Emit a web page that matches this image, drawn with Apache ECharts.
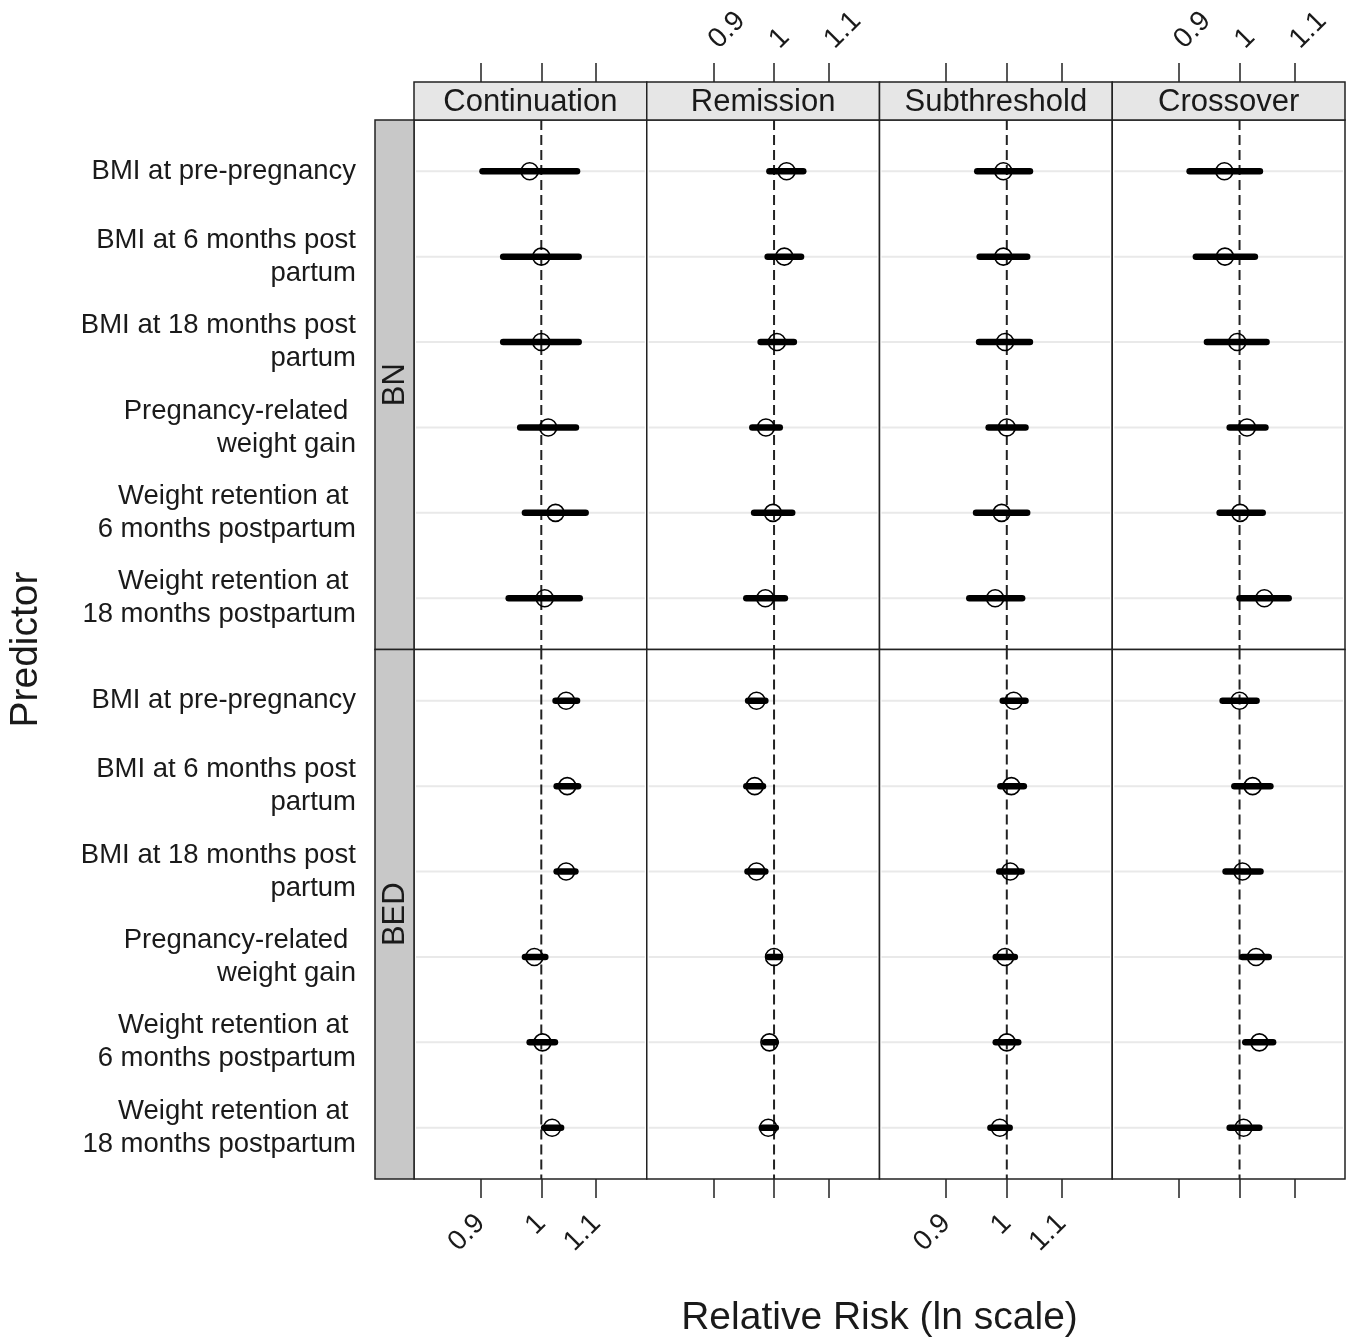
<!DOCTYPE html>
<html><head><meta charset="utf-8">
<script src="https://cdn.jsdelivr.net/npm/echarts@6/dist/echarts.min.js"></script>
<style>html,body{margin:0;padding:0;background:#fff}#chart{width:1355px;height:1342px}</style>
</head><body><div id="chart"></div>
<script>
// ---------- categories ----------
const outcomes = ['Continuation', 'Remission', 'Subthreshold', 'Crossover'];
const groups = ['BN', 'BED'];
const predictors = [
  'BMI at pre-pregnancy',
  'BMI at 6 months post\npartum',
  'BMI at 18 months post\npartum',
  'Pregnancy-related \nweight gain',
  'Weight retention at \n6 months postpartum',
  'Weight retention at \n18 months postpartum'
];
const tickValues = [0.9, 1, 1.1];
const tickLabels = ['0.9', '1', '1.1'];
const xLimits = [0.8018, 1.2008];
const referenceRR = 1;

// ---------- BN: relative risk estimates and 95% CI ----------
const BN_Continuation_est = [0.980, 1.000, 1.000, 1.012, 1.025, 1.006];
const BN_Continuation_lo  = [0.903, 0.936, 0.936, 0.964, 0.972, 0.945];
const BN_Continuation_hi  = [1.064, 1.067, 1.067, 1.062, 1.080, 1.069];

const BN_Remission_est = [1.022, 1.018, 1.005, 0.986, 0.998, 0.985];
const BN_Remission_lo  = [0.992, 0.989, 0.977, 0.963, 0.966, 0.953];
const BN_Remission_hi  = [1.052, 1.048, 1.035, 1.010, 1.032, 1.019];

const BN_Subthreshold_est = [0.994, 0.994, 0.997, 1.000, 0.991, 0.980];
const BN_Subthreshold_lo  = [0.950, 0.954, 0.953, 0.969, 0.948, 0.937];
const BN_Subthreshold_hi  = [1.041, 1.036, 1.041, 1.033, 1.036, 1.027];

const BN_Crossover_est = [0.974, 0.975, 0.996, 1.013, 1.001, 1.044];
const BN_Crossover_lo  = [0.917, 0.927, 0.945, 0.983, 0.966, 1.000];
const BN_Crossover_hi  = [1.036, 1.027, 1.048, 1.046, 1.041, 1.089];

// ---------- BED ----------
const BED_Continuation_est = [1.044, 1.046, 1.044, 0.988, 1.002, 1.019];
const BED_Continuation_lo  = [1.025, 1.027, 1.027, 0.972, 0.980, 1.005];
const BED_Continuation_hi  = [1.064, 1.066, 1.061, 1.007, 1.024, 1.035];

const BED_Remission_est = [0.970, 0.967, 0.970, 1.000, 0.992, 0.990];
const BED_Remission_lo  = [0.956, 0.953, 0.955, 0.991, 0.984, 0.979];
const BED_Remission_hi  = [0.985, 0.981, 0.985, 1.010, 1.003, 1.003];

const BED_Subthreshold_est = [1.012, 1.008, 1.006, 0.997, 1.000, 0.988];
const BED_Subthreshold_lo  = [0.993, 0.989, 0.987, 0.981, 0.981, 0.972];
const BED_Subthreshold_hi  = [1.033, 1.030, 1.026, 1.014, 1.020, 1.005];

const BED_Crossover_est = [1.000, 1.023, 1.005, 1.029, 1.035, 1.007];
const BED_Crossover_lo  = [0.971, 0.991, 0.976, 1.005, 1.010, 0.983];
const BED_Crossover_hi  = [1.030, 1.055, 1.037, 1.052, 1.060, 1.035];

const panelData = {
  BN: {
    Continuation: [BN_Continuation_est, BN_Continuation_lo, BN_Continuation_hi],
    Remission: [BN_Remission_est, BN_Remission_lo, BN_Remission_hi],
    Subthreshold: [BN_Subthreshold_est, BN_Subthreshold_lo, BN_Subthreshold_hi],
    Crossover: [BN_Crossover_est, BN_Crossover_lo, BN_Crossover_hi]
  },
  BED: {
    Continuation: [BED_Continuation_est, BED_Continuation_lo, BED_Continuation_hi],
    Remission: [BED_Remission_est, BED_Remission_lo, BED_Remission_hi],
    Subthreshold: [BED_Subthreshold_est, BED_Subthreshold_lo, BED_Subthreshold_hi],
    Crossover: [BED_Crossover_est, BED_Crossover_lo, BED_Crossover_hi]
  }
};

// ---------- layout ----------
const FONT = 'Liberation Sans, Arial, Helvetica, sans-serif';
const TXT = '#1a1a1a';
const LINE = '#222';
const pLeft = 414, pRight = 1345, pTop = 120, pBottom = 1179;
const pW = (pRight - pLeft) / outcomes.length;
const pH = (pBottom - pTop) / groups.length;
const stripH = 38, sideStripW = 39;
const yMin = 0.4, yMax = predictors.length + 0.6;

const ln = Math.log;
const grids = [], xAxes = [], yAxes = [], series = [], graphics = [];

groups.forEach((g, r) => {
  outcomes.forEach((o, c) => {
    const idx = grids.length;
    grids.push({
      left: pLeft + c * pW, top: pTop + r * pH, width: pW, height: pH,
      show: true, borderColor: LINE, borderWidth: 1.5, backgroundColor: '#fff',
      containLabel: false, outerBoundsMode: 'none'
    });
    const isTop = r === 0;
    const showLbl = isTop ? (c % 2 === 1) : (c % 2 === 0);
    xAxes.push({
      type: 'value', gridIndex: idx,
      min: ln(xLimits[0]), max: ln(xLimits[1]),
      position: isTop ? 'top' : 'bottom', offset: isTop ? stripH : 0,
      axisLine: { show: false },
      axisTick: { show: true, inside: false, length: 19, customValues: tickValues.map(ln),
                  lineStyle: { color: LINE, width: 1.5 } },
      axisLabel: {
        show: showLbl, customValues: tickValues.map(ln), rotate: isTop ? -45 : 45, margin: isTop ? 38 : 40,
        fontSize: 28, fontFamily: FONT, color: TXT,
        formatter: v => {
          let best = 0;
          tickValues.forEach((t, i) => { if (Math.abs(ln(t) - v) < Math.abs(ln(tickValues[best]) - v)) best = i; });
          return tickLabels[best];
        }
      },
      splitLine: { show: false }
    });
    yAxes.push({
      type: 'value', gridIndex: idx, inverse: true, min: yMin, max: yMax,
      axisLine: { show: false }, axisTick: { show: false }, splitLine: { show: false },
      axisLabel: {
        show: c === 0, customValues: predictors.map((p, i) => i + 1), margin: 58,
        fontSize: 27.5, lineHeight: 33, fontFamily: FONT, color: TXT, align: 'right',
        formatter: v => predictors[Math.round(v) - 1]
      }
    });
    const [est, lo, hi] = panelData[g][o];
    // light reference lines for each predictor
    series.push({
      type: 'custom', xAxisIndex: idx, yAxisIndex: idx, z: 1, silent: true,
      data: predictors.map((p, i) => [ln(referenceRR), i + 1]),
      renderItem: (params, api) => {
        const y = api.coord([api.value(0), api.value(1)])[1];
        const cs = params.coordSys;
        return { type: 'line', shape: { x1: cs.x + 2, y1: y, x2: cs.x + cs.width - 2, y2: y },
                 style: { stroke: '#e9e9e9', lineWidth: 2 } };
      }
    });
    // dashed reference at RR = 1
    series.push({
      type: 'line', xAxisIndex: idx, yAxisIndex: idx, z: 2, silent: true,
      showSymbol: false, symbol: 'none',
      data: [[ln(referenceRR), yMin], [ln(referenceRR), yMax]],
      lineStyle: { color: LINE, width: 2, type: [10, 5] }
    });
    // CI bars
    series.push({
      type: 'custom', xAxisIndex: idx, yAxisIndex: idx, z: 3, silent: true,
      encode: { x: [0, 1], y: 2 },
      data: lo.map((l, i) => [ln(l), ln(hi[i]), i + 1]),
      renderItem: (params, api) => {
        const a = api.coord([api.value(0), api.value(2)]);
        const b = api.coord([api.value(1), api.value(2)]);
        return { type: 'line', shape: { x1: a[0], y1: a[1], x2: b[0], y2: b[1] },
                 style: { stroke: '#000', lineWidth: 6.5, lineCap: 'round' } };
      }
    });
    // point estimates
    series.push({
      type: 'scatter', xAxisIndex: idx, yAxisIndex: idx, z: 4, silent: true,
      symbol: 'circle', symbolSize: 17,
      itemStyle: { color: 'rgba(0,0,0,0)', borderColor: '#000', borderWidth: 1.6, opacity: 1 },
      data: est.map((e, i) => [ln(e), i + 1])
    });
  });
});

// strips
outcomes.forEach((o, c) => {
  graphics.push({
    type: 'rect', z: 10, shape: { x: pLeft + c * pW, y: pTop - stripH, width: pW, height: stripH },
    style: { fill: '#e6e6e6', stroke: LINE, lineWidth: 1.5 }
  });
  graphics.push({
    type: 'text', z: 11, x: pLeft + c * pW + pW / 2, y: pTop - stripH / 2 + 1,
    style: { text: o, font: '31px ' + FONT, fill: TXT, textAlign: 'center', textVerticalAlign: 'middle' }
  });
});
groups.forEach((g, r) => {
  graphics.push({
    type: 'rect', z: 10, shape: { x: pLeft - sideStripW, y: pTop + r * pH, width: sideStripW, height: pH },
    style: { fill: '#c8c8c8', stroke: LINE, lineWidth: 1.5 }
  });
  graphics.push({
    type: 'text', z: 11, x: pLeft - sideStripW / 2 + 1, y: pTop + r * pH + pH / 2, rotation: Math.PI / 2,
    style: { text: g, font: '31px ' + FONT, fill: TXT, textAlign: 'center', textVerticalAlign: 'middle' }
  });
});
graphics.push({
  type: 'text', z: 11, x: 26, y: (pTop + pBottom) / 2, rotation: Math.PI / 2,
  style: { text: 'Predictor', font: '39px ' + FONT, fill: TXT, textAlign: 'center', textVerticalAlign: 'middle' }
});
graphics.push({
  type: 'text', z: 11, x: (pLeft + pRight) / 2, y: 1318,
  style: { text: 'Relative Risk (ln scale)', font: '39px ' + FONT, fill: TXT, textAlign: 'center', textVerticalAlign: 'middle' }
});

const chart = echarts.init(document.getElementById('chart'), null, { renderer: 'canvas' });
chart.setOption({
  backgroundColor: '#fff',
  animation: false,
  grid: grids, xAxis: xAxes, yAxis: yAxes, series: series,
  graphic: graphics
});
</script></body></html>
